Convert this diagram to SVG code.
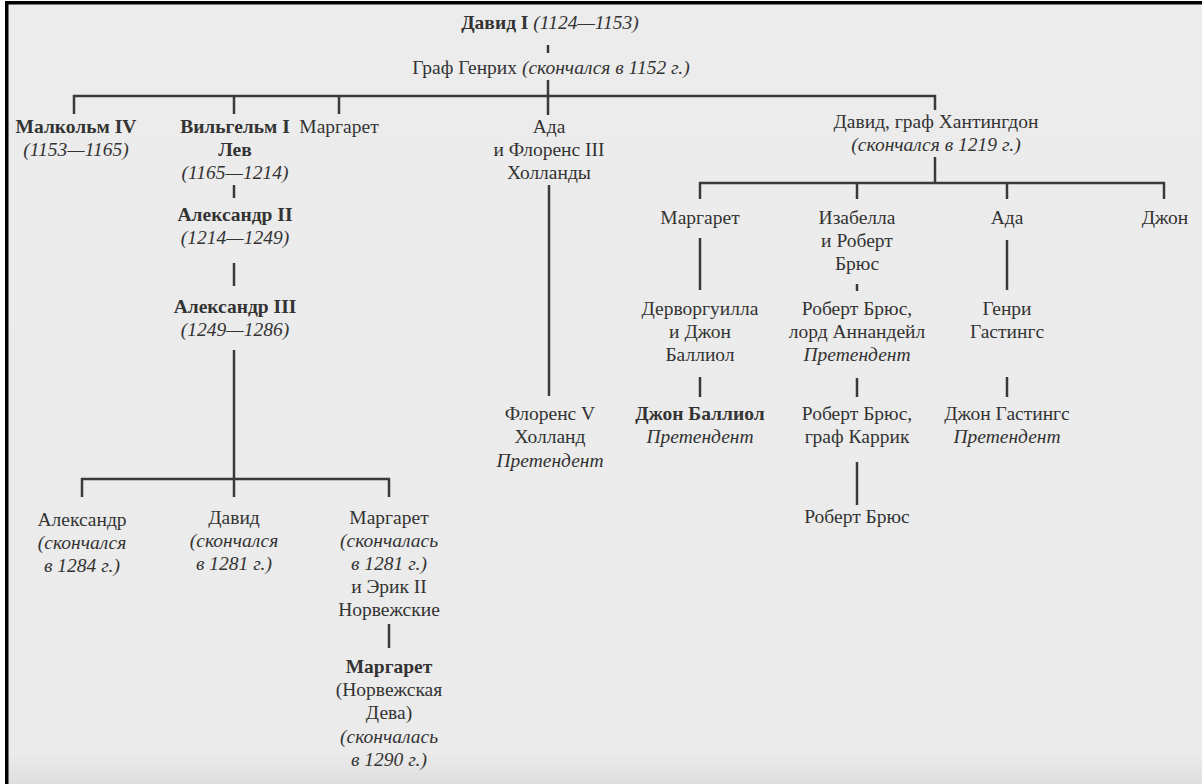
<svg xmlns="http://www.w3.org/2000/svg" width="1202" height="784" viewBox="0 0 1202 784">
<defs>
<linearGradient id="bg" x1="0" y1="0" x2="0" y2="1">
<stop offset="0" stop-color="#ececec"/>
<stop offset="0.96" stop-color="#ebebeb"/>
<stop offset="1" stop-color="#dedede"/>
</linearGradient>
<style>
text{font-family:"Liberation Serif","Times New Roman",serif;font-size:19.5px;fill:#333333;text-anchor:middle}
.b{font-weight:bold}
.i{font-style:italic}
.c line{stroke:#3a3a3a;stroke-width:2.5}
</style>
</defs>
<rect width="1202" height="784" fill="#ffffff"/>
<rect x="5" y="1" width="1197" height="783" fill="url(#bg)"/>
<rect x="5" y="1" width="1197" height="3.5" fill="#000"/>
<rect x="5" y="1" width="3.5" height="783" fill="#000"/>

<g id="connectors" class="c">
<line x1="548" y1="45" x2="548" y2="53"/>
<line x1="548" y1="80" x2="548" y2="115"/>
<line x1="73" y1="96" x2="936" y2="96"/>
<line x1="74" y1="95" x2="74" y2="114"/>
<line x1="234" y1="95" x2="234" y2="114"/>
<line x1="339" y1="95" x2="339" y2="114"/>
<line x1="935" y1="95" x2="935" y2="110"/>
<line x1="234" y1="185" x2="234" y2="198"/>
<line x1="234" y1="263" x2="234" y2="286"/>
<line x1="234" y1="350" x2="234" y2="497"/>
<line x1="81" y1="479" x2="390" y2="479"/>
<line x1="82" y1="478" x2="82" y2="497"/>
<line x1="389" y1="478" x2="389" y2="497"/>
<line x1="389" y1="624" x2="389" y2="648"/>
<line x1="935" y1="157" x2="935" y2="183"/>
<line x1="699" y1="183" x2="1165" y2="183"/>
<line x1="700" y1="182" x2="700" y2="199"/>
<line x1="857" y1="182" x2="857" y2="199"/>
<line x1="1007" y1="182" x2="1007" y2="199"/>
<line x1="1164" y1="182" x2="1164" y2="199"/>
<line x1="549" y1="185" x2="549" y2="396"/>
<line x1="700" y1="238" x2="700" y2="290"/>
<line x1="700" y1="377" x2="700" y2="397"/>
<line x1="857" y1="284" x2="857" y2="291"/>
<line x1="857" y1="378" x2="857" y2="397"/>
<line x1="857" y1="462" x2="857" y2="505"/>
<line x1="1007" y1="240" x2="1007" y2="290"/>
<line x1="1007" y1="377" x2="1007" y2="397"/>
</g>

<g id="david1"><text x="550" y="29"><tspan class="b">Давид I</tspan> <tspan class="i">(1124—1153)</tspan></text></g>
<g id="henry"><text x="551" y="74">Граф Генрих <tspan class="i">(скончался в 1152 г.)</tspan></text></g>
<g id="malcolm"><text x="76" y="133" class="b">Малкольм IV</text><text x="76" y="156" class="i">(1153—1165)</text></g>
<g id="william"><text x="235" y="133" class="b">Вильгельм I</text><text x="235" y="156" class="b">Лев</text><text x="235" y="179" class="i">(1165—1214)</text></g>
<g id="margaret1"><text x="339" y="133">Маргарет</text></g>
<g id="ada"><text x="549" y="133">Ада</text><text x="549" y="156">и Флоренс III</text><text x="549" y="179">Холланды</text></g>
<g id="davidH"><text x="936" y="128">Давид, граф Хантингдон</text><text x="936" y="151" class="i">(скончался в 1219 г.)</text></g>
<g id="alex2"><text x="235" y="221" class="b">Александр II</text><text x="235" y="244" class="i">(1214—1249)</text></g>
<g id="alex3"><text x="235" y="313" class="b">Александр III</text><text x="235" y="336" class="i">(1249—1286)</text></g>
<g id="alexander"><text x="82" y="526">Александр</text><text x="82" y="549" class="i">(скончался</text><text x="82" y="572" class="i">в 1284 г.)</text></g>
<g id="david"><text x="234" y="524">Давид</text><text x="234" y="547" class="i">(скончался</text><text x="234" y="570" class="i">в 1281 г.)</text></g>
<g id="margaret2"><text x="389" y="524">Маргарет</text><text x="389" y="547" class="i">(скончалась</text><text x="389" y="570" class="i">в 1281 г.)</text><text x="389" y="593">и Эрик II</text><text x="389" y="616">Норвежские</text></g>
<g id="maid"><text x="389" y="673" class="b">Маргарет</text><text x="389" y="696">(Норвежская</text><text x="389" y="719">Дева)</text><text x="389" y="743" class="i">(скончалась</text><text x="389" y="766" class="i">в 1290 г.)</text></g>
<g id="florence"><text x="550" y="420">Флоренс V</text><text x="550" y="443">Холланд</text><text x="550" y="467" class="i">Претендент</text></g>
<g id="margaretH"><text x="700" y="224">Маргарет</text></g>
<g id="isabella"><text x="857" y="224">Изабелла</text><text x="857" y="247">и Роберт</text><text x="857" y="270">Брюс</text></g>
<g id="adaH"><text x="1007" y="224">Ада</text></g>
<g id="johnH"><text x="1165" y="224">Джон</text></g>
<g id="dervorgilla"><text x="700" y="315">Дерворгуилла</text><text x="700" y="338">и Джон</text><text x="700" y="361">Баллиол</text></g>
<g id="balliol"><text x="700" y="420" class="b">Джон Баллиол</text><text x="700" y="443" class="i">Претендент</text></g>
<g id="bruce1"><text x="857" y="315">Роберт Брюс,</text><text x="857" y="338">лорд Аннандейл</text><text x="857" y="361" class="i">Претендент</text></g>
<g id="bruce2"><text x="857" y="420">Роберт Брюс,</text><text x="857" y="443">граф Каррик</text></g>
<g id="bruce3"><text x="857" y="523">Роберт Брюс</text></g>
<g id="henryH"><text x="1007" y="315">Генри</text><text x="1007" y="338">Гастингс</text></g>
<g id="johnHast"><text x="1007" y="420">Джон Гастингс</text><text x="1007" y="443" class="i">Претендент</text></g>
</svg>
